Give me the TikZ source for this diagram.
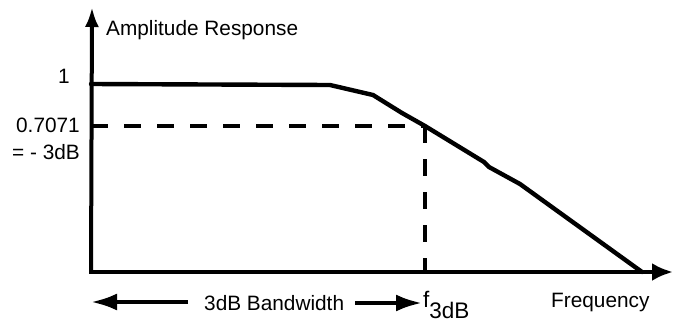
\documentclass[tikz,border=0pt]{standalone}
\usepackage{fontspec}
\setmainfont{Liberation Sans}
\usetikzlibrary{arrows.meta}
\begin{document}
\begin{tikzpicture}[x=1pt,y=-1pt,
  lbl/.style={inner sep=0pt,font=\fontsize{20.8}{24}\selectfont},
  axisline/.style={line width=4pt,-{Latex[length=20pt,width=14pt]}},
  xaxisline/.style={line width=4pt,-{Latex[length=21pt,width=18pt]}},
  resp/.style={line width=4.4pt,line join=round,line cap=round},
  guide/.style={line width=4.2pt,dash pattern=on 17pt off 16pt},
  bwarrow/.style={line width=4pt,-{Latex[length=26pt,width=17pt]}}]
\useasboundingbox (0,0) rectangle (673,322);
% key points
\coordinate (O) at (91,272);
\coordinate (ytip) at (92,7);
\coordinate (xtip) at (673,272);
\coordinate (p1) at (91,84);
\coordinate (p2) at (330,85);
\coordinate (p3) at (373,95);
\coordinate (p4) at (402,113);
\coordinate (p5) at (425,126);
\coordinate (p6) at (484,162);
\coordinate (p7) at (489,167);
\coordinate (p8) at (520,184);
\coordinate (p9) at (642,272);
\coordinate (h0) at (91,126);
\coordinate (v0) at (425,272);
\coordinate (la) at (188,302);
\coordinate (lb) at (91,302);
\coordinate (ra) at (355,303);
\coordinate (rb) at (422,303);
% dashed guides
\draw[guide] (h0) -- (p5);
\draw[guide] (p5) -- (v0);
% axes
\draw[axisline] (O) -- (ytip);
\draw[xaxisline] ([xshift=-2pt]O) -- (xtip);
% response
\draw[resp] (p1) -- (p2) -- (p3) -- (p4) -- (p5) -- (p6) -- (p7) -- (p8) -- (p9);
% labels
\node[lbl,anchor=base west] (amp) at (106,35) {Amplitude Response};
\node[lbl,anchor=base east] (one) at (70,83) {1};
\node[lbl,anchor=base east] (lev) at (80,132) {0.7071};
\node[lbl,anchor=base east] (db) at (80,159) {= - 3dB};
\node[lbl,anchor=base west] (bw) at (204,310) {3dB Bandwidth};
\node[lbl,anchor=base west,font=\fontsize{22.5}{26}\selectfont] (f3) at (423,307) {f\raisebox{-11pt}{3dB}};
\node[lbl,anchor=base west] (freq) at (551,307) {Frequency};
% bandwidth arrows
\draw[bwarrow] (la) -- (lb);
\draw[bwarrow] (ra) -- (rb);
\end{tikzpicture}
\end{document}
